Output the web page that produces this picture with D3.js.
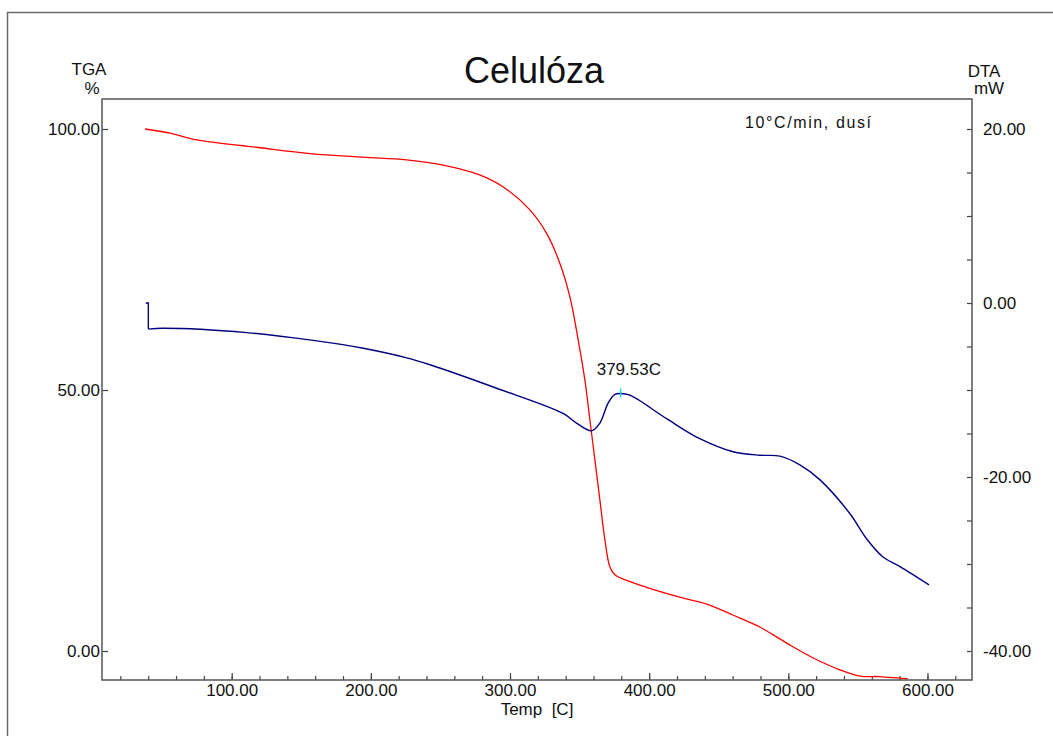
<!DOCTYPE html>
<html>
<head>
<meta charset="utf-8">
<script src="https://cdn.jsdelivr.net/npm/d3@7"></script>
<style>
  body { margin: 0; background: #fff; }
  svg text { font-family: "Liberation Sans", Arial, sans-serif; fill: #111; }
</style>
</head>
<body>
<div id="chart"></div>
<script>
// TGA curve (red) - temperature [C] and mass [%]
var tgaTemp = [37.7, 55.7, 74.9, 118.0, 156.3, 194.5, 225.7, 252.0, 277.2, 295.1, 314.3, 326.3, 335.8, 343.0, 349.0, 353.8, 357.4, 361.0, 364.6, 368.2, 371.8, 375.4, 386.2, 422.0, 441.4, 460.1, 479.5, 498.9, 517.6, 537.0, 551.4, 565.7, 580.1, 585.8]
var tgaMass = [100.0, 99.2, 97.9, 96.5, 95.3, 94.6, 94.1, 93.1, 91.3, 88.9, 84.5, 80.0, 74.3, 67.9, 59.6, 51.9, 44.3, 36.6, 28.9, 21.3, 16.1, 14.6, 13.3, 10.3, 9.0, 6.9, 4.6, 1.5, -1.3, -3.6, -4.8, -4.9, -5.2, -5.3]

// DTA curve (blue) - temperature [C] and signal [mW]
var dtaStartTemp = [38.2, 40.1, 40.1]
var dtaStartSig = [0.0, 0.0, -3.0]
var dtaTemp = [40.1, 50.9, 110.8, 158.6, 194.5, 225.7, 242.5, 290.4, 338.2, 347.8, 358.6, 364.6, 370.5, 375.4, 379.5, 386.2, 412.5, 436.4, 460.3, 479.5, 493.9, 508.3, 522.6, 544.2, 556.2, 568.1, 580.3, 601.1]
var dtaSig = [-3.0, -2.9, -3.4, -4.3, -5.2, -6.3, -7.1, -9.8, -12.7, -13.8, -14.7, -13.8, -11.5, -10.5, -10.4, -10.6, -13.3, -15.6, -17.1, -17.5, -17.6, -18.6, -20.3, -24.2, -27.1, -29.2, -30.3, -32.4]

var peakTemp = 379.53
var peakSig = -10.4

var xTicks = [100, 200, 300, 400, 500, 600]
var xMinorTicks = d3.range(20, 621, 20)
var leftTicks = [0, 50, 100]
var rightTicks = d3.range(-40, 21, 5)

var W = 1053, H = 736
var box = { left: 102, top: 99, right: 972, bottom: 680 }

var svg = d3.select("#chart").append("svg")
    .attr("width", W)
    .attr("height", H)

// outer frame (left + top edges only visible)
svg.append("path")
    .attr("d", "M7.5,736 L7.5,12.5 L1053,12.5")
    .attr("fill", "none")
    .attr("stroke", "#6b6b6b")
    .attr("stroke-width", 1.5)

var x = d3.scaleLinear().domain([6.8, 632]).range([box.left, box.right])
var yL = d3.scaleLinear().domain([0, 100]).range([651, 129])
var yR = d3.scaleLinear().domain([-40, 20]).range([651, 129])

svg.append("defs").append("clipPath").attr("id", "plotclip")
    .append("rect")
    .attr("x", box.left).attr("y", box.top)
    .attr("width", box.right - box.left).attr("height", box.bottom - box.top)

// axes - plain hyphen minus like the instrument software
var fmt = function (d) { return d.toFixed(2) }

var gx = svg.append("g")
    .attr("transform", "translate(0," + box.bottom + ")")
    .call(d3.axisBottom(x).tickValues(xTicks).tickSize(-7).tickPadding(4).tickFormat(fmt))
var gxm = svg.append("g")
    .attr("transform", "translate(0," + box.bottom + ")")
    .call(d3.axisBottom(x).tickValues(xMinorTicks).tickSize(-4).tickFormat(""))

var gl = svg.append("g")
    .attr("transform", "translate(" + box.left + ",0)")
    .call(d3.axisLeft(yL).tickValues(leftTicks).tickSize(-6).tickPadding(2).tickFormat(fmt))

var gr = svg.append("g")
    .attr("transform", "translate(" + box.right + ",0)")
    .call(d3.axisRight(yR).tickValues(rightTicks).tickSize(-5).tickPadding(11)
        .tickFormat(function (d) { return d % 20 === 0 ? fmt(d) : "" }))

;[gx, gxm, gl, gr].forEach(function (g) {
    g.select(".domain").remove()
    g.selectAll(".tick line").attr("stroke", "#444").attr("stroke-width", 1.2)
    g.selectAll(".tick text").attr("font-size", 17).attr("fill", "#111")
        .style("font-family", "'Liberation Sans', Arial, sans-serif")
})

// plot box
svg.append("rect")
    .attr("x", box.left).attr("y", box.top)
    .attr("width", box.right - box.left).attr("height", box.bottom - box.top)
    .attr("fill", "none")
    .attr("stroke", "#555")
    .attr("stroke-width", 1.5)

// curves
var plot = svg.append("g").attr("clip-path", "url(#plotclip)")

var tgaLine = d3.line()
    .x(function (d, i) { return x(tgaTemp[i]) })
    .y(function (d, i) { return yL(tgaMass[i]) })
    .curve(d3.curveCatmullRom.alpha(0.5))

plot.append("path")
    .attr("d", tgaLine(tgaTemp))
    .attr("fill", "none")
    .attr("stroke", "#ff0000")
    .attr("stroke-width", 1.3)

var dtaLine = d3.line()
    .x(function (d, i) { return x(dtaTemp[i]) })
    .y(function (d, i) { return yR(dtaSig[i]) })
    .curve(d3.curveCatmullRom.alpha(0.5))

var dtaStartLine = d3.line()
    .x(function (d, i) { return x(dtaStartTemp[i]) })
    .y(function (d, i) { return yR(dtaStartSig[i]) })

plot.append("path")
    .attr("d", dtaStartLine(dtaStartTemp))
    .attr("fill", "none")
    .attr("stroke", "#000080")
    .attr("stroke-width", 1.4)

plot.append("path")
    .attr("d", dtaLine(dtaTemp))
    .attr("fill", "none")
    .attr("stroke", "#000080")
    .attr("stroke-width", 1.4)

// peak marker
svg.append("line")
    .attr("x1", x(peakTemp)).attr("x2", x(peakTemp))
    .attr("y1", yR(peakSig) - 5).attr("y2", yR(peakSig) + 4)
    .attr("stroke", "#00e0f0")
    .attr("stroke-width", 1.3)

svg.append("text")
    .attr("x", x(peakTemp) - 24)
    .attr("y", 375)
    .attr("font-size", 17)
    .text(peakTemp.toFixed(2) + "C")

// titles
svg.append("text")
    .attr("x", 534).attr("y", 83)
    .attr("text-anchor", "middle")
    .attr("font-size", 36)
    .text("Celulóza")

svg.append("text")
    .attr("x", 89).attr("y", 75)
    .attr("text-anchor", "middle")
    .attr("font-size", 17)
    .text("TGA")
svg.append("text")
    .attr("x", 92).attr("y", 94)
    .attr("text-anchor", "middle")
    .attr("font-size", 17)
    .text("%")

svg.append("text")
    .attr("x", 984).attr("y", 77)
    .attr("text-anchor", "middle")
    .attr("font-size", 17)
    .text("DTA")
svg.append("text")
    .attr("x", 989).attr("y", 94)
    .attr("text-anchor", "middle")
    .attr("font-size", 17)
    .text("mW")

svg.append("text")
    .attr("x", 745).attr("y", 128)
    .attr("font-size", 16)
    .attr("textLength", 126)
    .text("10°C/min, dusí")

svg.append("text")
    .attr("x", 537).attr("y", 715)
    .attr("text-anchor", "middle")
    .attr("font-size", 17)
    .text("Temp\u00a0 [C]")
</script>
</body>
</html>
